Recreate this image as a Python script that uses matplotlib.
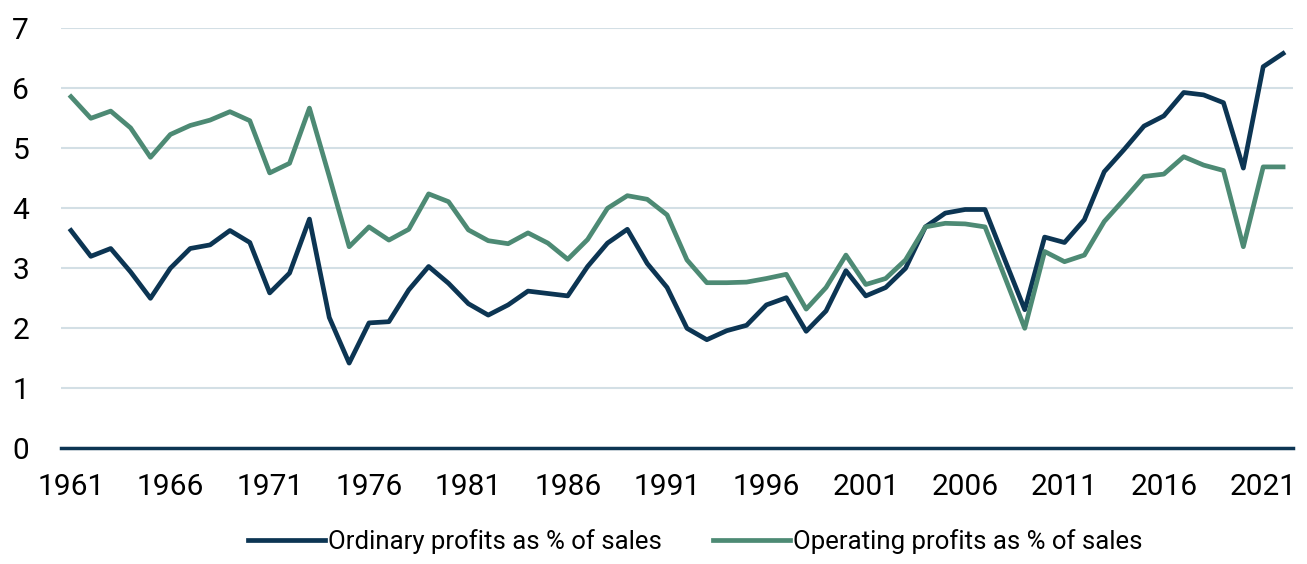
import numpy as np
import matplotlib.pyplot as plt

years = list(range(1961, 2023))

ordinary = [3.62, 3.19, 3.32, 2.93, 2.49, 2.99, 3.32, 3.38, 3.62, 3.42,
            2.58, 2.91, 3.81, 2.17, 1.41, 2.08, 2.10, 2.63, 3.02, 2.74,
            2.40, 2.21, 2.38, 2.61, 2.57, 2.53, 3.02, 3.41, 3.64, 3.07,
            2.67, 1.99, 1.80, 1.95, 2.04, 2.38, 2.50, 1.94, 2.28, 2.95,
            2.53, 2.67, 2.99, 3.68, 3.91, 3.97, 3.97, 3.13, 2.30, 3.51,
            3.42, 3.80, 4.60, 4.97, 5.36, 5.53, 5.92, 5.88, 5.75, 4.66,
            6.35, 6.57]

operating = [5.85, 5.49, 5.61, 5.33, 4.84, 5.22, 5.37, 5.46, 5.60, 5.45,
             4.58, 4.74, 5.66, 4.52, 3.35, 3.68, 3.46, 3.64, 4.23, 4.10,
             3.63, 3.45, 3.40, 3.58, 3.41, 3.14, 3.47, 3.99, 4.20, 4.14,
             3.88, 3.13, 2.75, 2.75, 2.76, 2.82, 2.89, 2.31, 2.67, 3.21,
             2.72, 2.82, 3.13, 3.68, 3.74, 3.73, 3.68, 2.84, 1.99, 3.27,
             3.10, 3.21, 3.77, 4.14, 4.52, 4.56, 4.85, 4.71, 4.62, 3.35,
             4.68, 4.68]

labels = ['Ordinary profits as % of sales', 'Operating profits as % of sales']
colors = ['#0c3553', '#4d8a74']

plt.rcParams['font.family'] = ['Roboto', 'DejaVu Sans']

fig = plt.figure(figsize=(13.07, 5.64), dpi=100)
ax = fig.add_axes([0.0467, 0.2062, 0.9426, 0.7447])

x = np.arange(len(years))
ax.plot(x, ordinary, color=colors[0], lw=3.4, label=labels[0], zorder=3)
ax.plot(x, operating, color=colors[1], lw=3.4, label=labels[1], zorder=3)

ax.set_ylim(0, 7)
ax.set_xlim(-0.5, len(years) - 0.5)
ax.set_yticks(range(0, 8))
ax.set_xticks(x[::5])
ax.set_xticklabels([str(y) for y in years[::5]])

ax.grid(axis='y', color='#d3dfe5', lw=1.5)
ax.set_axisbelow(True)
ax.axhline(0, color='#0c3553', lw=2.5, zorder=2, clip_on=False)
for s in ax.spines.values():
    s.set_visible(False)
ax.tick_params(axis='both', length=0, labelsize=21.5)
ax.tick_params(axis='y', pad=23)
ax.tick_params(axis='x', pad=18)

ax.legend(loc='center', bbox_to_anchor=(0.5146, -0.224), ncol=2, frameon=False,
          fontsize=18.5, handlelength=3.0, handletextpad=0.1, columnspacing=2.0)

fig.savefig('out.png', dpi=100)
